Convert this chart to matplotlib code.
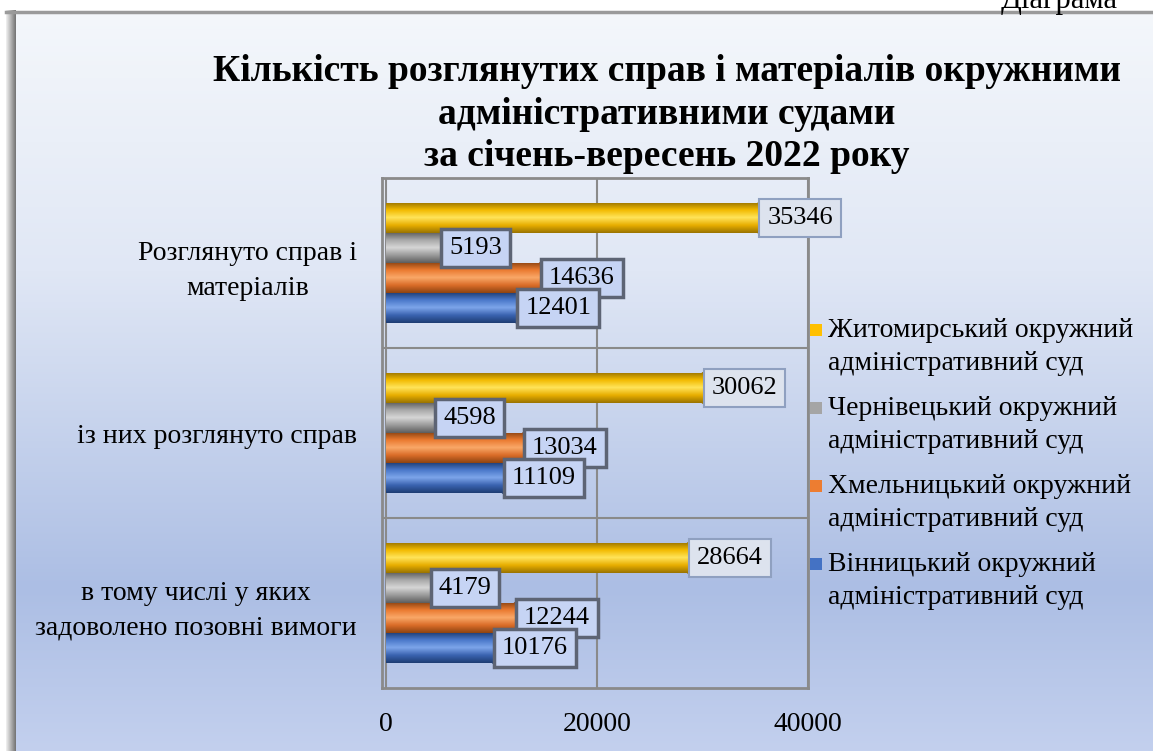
import numpy as np
import matplotlib
matplotlib.use("Agg")
import matplotlib.pyplot as plt
from matplotlib.colors import LinearSegmentedColormap
from matplotlib.patches import Rectangle, Ellipse

plt.rcParams['font.family'] = ['Liberation Serif', 'DejaVu Serif']

categories = ["Розглянуто справ і\nматеріалів",
              "із них розглянуто справ",
              "в тому числі у яких\nзадоволено позовні вимоги"]
series_names = ["Житомирський окружний\nадміністративний суд",
                "Чернівецький окружний\nадміністративний суд",
                "Хмельницький окружний\nадміністративний суд",
                "Вінницький окружний\nадміністративний суд"]
zhytomyr = [35346, 30062, 28664]
chernivtsi = [5193, 4598, 4179]
khmelnytskyi = [14636, 13034, 12244]
vinnytsia = [12401, 11109, 10176]
series_values = [zhytomyr, chernivtsi, khmelnytskyi, vinnytsia]
x_ticks = [0, 20000, 40000]
title = "Кількість розглянутих справ і матеріалів окружними\nадміністративними судами\nза січень-вересень 2022 року"

base_colors = ["#FFC000", "#A5A5A5", "#ED7D31", "#4472C4"]
shade = [("#9A7400", "#E8AE00", "#FFE45A", "#F2BA00", "#9A7400"),
         ("#5E5E5E", "#9A9A9A", "#D6D6D6", "#A8A8A8", "#5E5E5E"),
         ("#8E4512", "#DA6C28", "#F9A868", "#EA7A30", "#8E4512"),
         ("#1E3D73", "#3A63B0", "#7DA5EA", "#4A78CA", "#1E3D73")]

W, H = 1153, 751
fig = plt.figure(figsize=(W / 100, H / 100), dpi=100)
fig.patch.set_facecolor("white")

# background panel with gradient
bg = fig.add_axes([12 / W, 0, 1 - 12 / W, 1 - 12 / H], zorder=-10)
yy = np.linspace(0, 1, 300)
stops_y = [0.0, 0.35, 0.78, 1.0]
r = np.interp(yy, stops_y, [244, 224, 172, 195])
g = np.interp(yy, stops_y, [247, 231, 190, 208])
b = np.interp(yy, stops_y, [251, 245, 228, 238])
grad = np.stack([r, g, b], axis=1)[:, None, :] / 255.0
bg.imshow(grad, aspect="auto", extent=(0, 1, 0, 1), origin="upper")
bg.set_xlim(0, 1); bg.set_ylim(0, 1)
bg.axis("off")

# frame shadow (left and top)
sh = fig.add_axes([6 / W, 0, 10 / W, 1 - 10 / H], zorder=-9)
sg = np.linspace(0.95, 0.45, 50)[None, :, None] * np.ones((1, 50, 3))
sh.imshow(sg, aspect="auto", extent=(0, 1, 0, 1))
sh.axis("off")
fig.add_artist(plt.Line2D([6 / W, 1], [1 - 12 / H, 1 - 12 / H], color="#9a9a9a", lw=2.5))

fig.text(1 - 152 / W, 1 - 8 / H, "Діаграма", fontsize=22, ha="left", va="baseline")

fig.text(667 / W, 1 - 114 / H, title, ha="center", va="center", fontsize=27,
         fontweight="bold", linespacing=1.28)

ax = fig.add_axes([382 / W, 63 / H, 426 / W, 510 / H])
ax.set_facecolor("none")
ax.set_xlim(-400, 40000)
ax.set_ylim(2.5, -0.5)

offsets = [-0.265, -0.088, 0.088, 0.265]
hgt = 0.18
for i, vals in enumerate(series_values):
    cmap = LinearSegmentedColormap.from_list("c%d" % i, shade[i])
    gimg = np.linspace(0, 1, 100)[:, None]
    for c, v in enumerate(vals):
        yc = c + offsets[i]
        bars = ax.barh([yc], [v], height=hgt, left=0, color=base_colors[i], zorder=3)
        rect = bars.patches[0]
        im = ax.imshow(gimg, cmap=cmap, aspect="auto", origin="lower",
                       extent=(0, v, yc + hgt / 2, yc - hgt / 2), zorder=3.5)
        im.set_clip_path(rect)
        cap = Ellipse((v, yc), width=700, height=hgt, facecolor=shade[i][3],
                      edgecolor=shade[i][0], lw=1, zorder=3.4)
        ax.add_patch(cap)
        if i == 0:
            box = dict(boxstyle="square,pad=0.3", facecolor="#dde3ee", edgecolor="#8fa0c0", lw=1.5)
        else:
            box = dict(boxstyle="square,pad=0.3", facecolor="#c6d4f4", edgecolor="#5d6474", lw=2.5)
        ax.annotate(str(v), (v, yc), xytext=(6, 0), textcoords="offset points",
                    ha="left", va="center", fontsize=19, bbox=box, zorder=6)

ax.set_xlim(-400, 40000)
ax.set_ylim(2.5, -0.5)

ax.set_xticks(x_ticks)
ax.set_xticklabels([str(t) for t in x_ticks], fontsize=20)
ax.set_yticks(range(len(categories)))
ax.set_yticklabels(categories, fontsize=20)
for t in ax.get_yticklabels():
    t.set_multialignment("center")
    t.set_linespacing(1.5)
ax.tick_params(axis="y", length=0, pad=18)
ax.tick_params(axis="x", length=0, pad=17)
for x in x_ticks:
    ax.axvline(x, color="#8a8a8a", lw=1.5, zorder=1)
for y in [0.5, 1.5]:
    ax.axhline(y, color="#8a8a8a", lw=1.5, zorder=1)
for s in ax.spines.values():
    s.set_color("#8a8a8a")
    s.set_linewidth(2)

# legend (manual, square markers aligned with first line)
for i, name in enumerate(series_names):
    yc = 330 + i * 78
    fig.add_artist(Rectangle((810 / W, 1 - (yc + 6) / H), 12 / W, 12 / H,
                             facecolor=base_colors[i], edgecolor="none",
                             transform=fig.transFigure))
    fig.text(828 / W, 1 - (yc - 12) / H, name, ha="left", va="top", fontsize=20,
             linespacing=1.4)

fig.savefig("out.png", dpi=100)
